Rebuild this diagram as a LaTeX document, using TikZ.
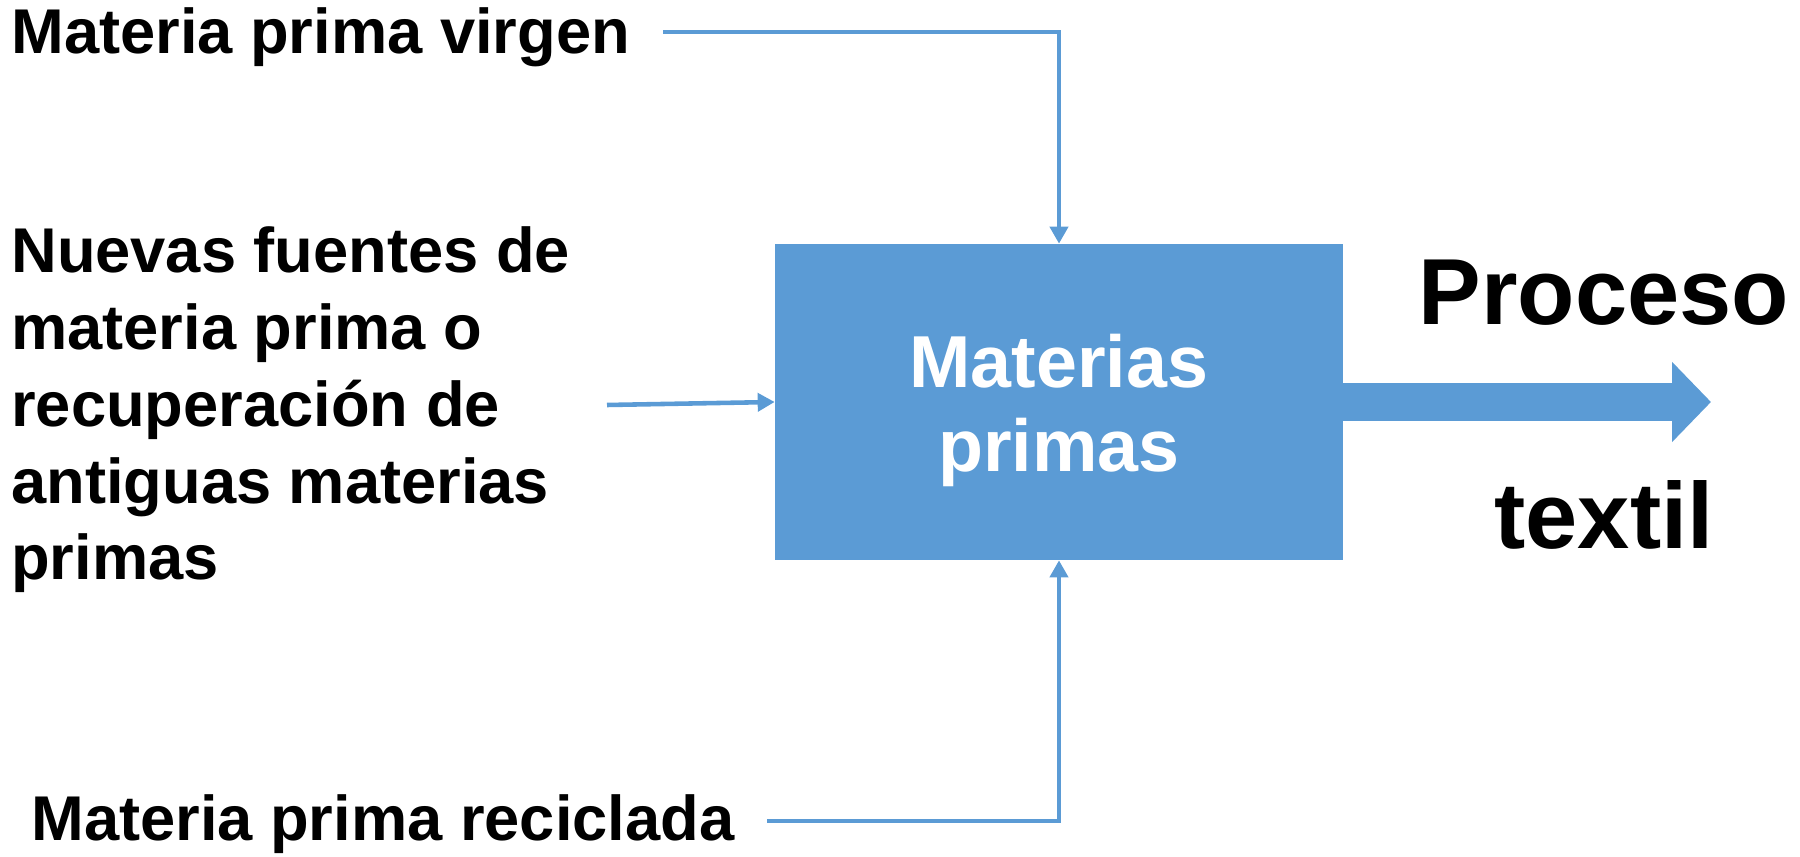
\documentclass[tikz,border=0pt]{standalone}
\usepackage{fontspec}
\setmainfont{Liberation Sans}
\usetikzlibrary{arrows.meta}
\definecolor{boxblue}{HTML}{5B9BD5}

\begin{document}
\begin{tikzpicture}[x=0.02cm, y=-0.02cm]
	\tikzstyle{box}=[rectangle, fill=boxblue, inner sep=0pt, minimum width=11.36cm, minimum height=6.32cm, text=white, align=center, font=\fontsize{41.9}{47.8}\selectfont\bfseries]
	\tikzstyle{annot}=[inner sep=0pt, anchor=base west, align=left, font=\fontsize{36}{43.8}\selectfont\bfseries]
	\tikzstyle{big}=[inner sep=0pt, anchor=base, font=\fontsize{53.4}{60}\selectfont\bfseries]
	\tikzstyle{feed}=[draw=boxblue, line width=2.6pt, -{Triangle[width=10.2pt, length=9.7pt]}]

	\useasboundingbox (0,0) rectangle (1800,857);

	% Draw the box and the texts
	\node[box] (mp) at (1059,402) {};
	\node[box, fill=none, minimum width=0pt, minimum height=0pt] (mptext) at (1059,410) {Materias\\primas};
	\node[annot] (virgen) at (11,54) {Materia prima virgen};
	\node[annot] (nuevas) at (11,580) {Nuevas fuentes de\\materia prima o\\recuperación de\\antiguas materias\\primas};
	\node[annot] (reciclada) at (31,841) {Materia prima reciclada};
	\node[big] (proceso) at (1604,325) {Proceso};
	\node[big] (textil) at (1604,549) {textil};

	\coordinate (virgenend) at (663,32);
	\coordinate (nuevasend) at (607,405);
	\coordinate (recicladaend) at (767,821);
	\coordinate (tip) at (1711,402);

	% Draw arrows
	\draw[feed] (virgenend) -| (mp.north);
	\draw[feed] (nuevasend) -- (mp.west);
	\draw[feed] (recicladaend) -| (mp.south);
	\draw[draw=boxblue, line width=21.6pt, -{Triangle[width=44.4pt, length=22.2pt]}] (mp.east) -- (tip);

\end{tikzpicture}
\end{document}
